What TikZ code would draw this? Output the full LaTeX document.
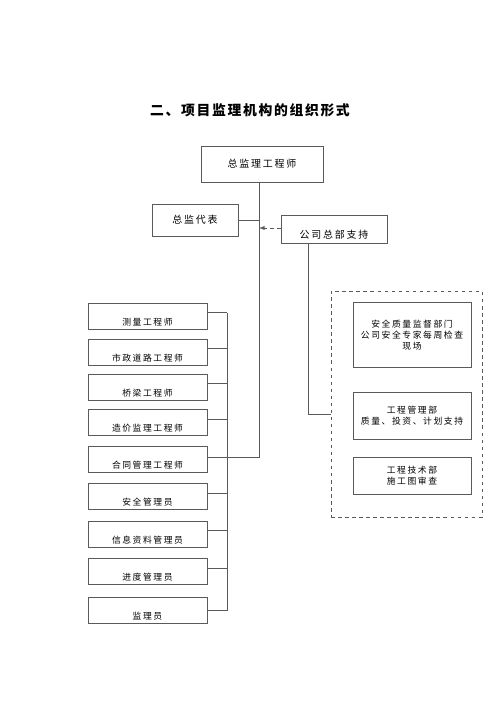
\documentclass[tikz,border=0pt]{standalone}
\usepackage{fontspec}
\setmainfont{Noto Sans CJK SC}[LetterSpace=18]
\newfontfamily\titlefont{Noto Sans CJK SC}[LetterSpace=12]
\usepackage{tikz}
\usepackage{xcolor}
\definecolor{linegray}{RGB}{90,90,90}

\begin{document}
\begin{tikzpicture}[x=0.03cm,y=-0.03cm,
		box/.style={draw=linegray,line width=0.7pt,rectangle,inner sep=2pt,align=center,font=\fontsize{7.5}{9.5}\selectfont},
		staff/.style={box,minimum width=3.57cm,minimum height=0.78cm,text height=1.6em,text depth=0pt},
		dept/.style={box,minimum width=3.54cm},
		link/.style={draw=linegray,line width=0.7pt}]
				\useasboundingbox (0,0) rectangle (500,707);
				\node[font=\titlefont\fontsize{11.8}{14}\selectfont\bfseries] (title) at (250,110) {二、项目监理机构的组织形式};
				\node[box,minimum width=3.66cm,minimum height=1.08cm,font=\fontsize{8.5}{10}\selectfont] (chief) at (262,164) {总监理工程师};
				\node[box,minimum width=2.58cm,minimum height=0.96cm,font=\fontsize{8.5}{10}\selectfont] (deputy) at (195,220) {总监代表};
				\node[box,minimum width=3.18cm,minimum height=0.84cm,font=\fontsize{8.5}{10}\selectfont,text height=1.6em,text depth=0pt] (hq) at (334,229) {公司总部支持};
				% left column
				\node[staff] (s1) at (147.5,316) {测量工程师};
				\node[staff] (s2) at (147.5,352) {市政道路工程师};
				\node[staff] (s3) at (147.5,387) {桥梁工程师};
				\node[staff] (s4) at (147.5,422.5) {造价监理工程师};
				\node[staff] (s5) at (147.5,459.5) {合同管理工程师};
				\node[staff] (s6) at (147.5,496.5) {安全管理员};
				\node[staff] (s7) at (147.5,534) {信息资料管理员};
				\node[staff] (s8) at (147.5,571.5) {进度管理员};
				\node[staff] (s9) at (147.5,610) {监理员};
				% support departments
				\node[draw=linegray,line width=0.7pt,dashed,minimum width=4.53cm,minimum height=6.78cm] (support) at (406.5,404) {};
				\node[dept,minimum height=1.95cm] (d1) at (412,335) {安全质量监督部门\\公司安全专家每周检查\\现场};
				\node[dept,minimum height=1.41cm] (d2) at (412,415.5) {工程管理部\\质量、投资、计划支持};
				\node[dept,minimum height=1.11cm] (d3) at (412,475.5) {工程技术部\\施工图审查};
				% connectors
				\coordinate (trunk) at (259,457);
				\coordinate (bus) at (227,313);
				\draw[link] (chief.south -| trunk) -- (trunk) -- (s5.east |- trunk);
				\draw[link] (deputy.east) -- (deputy.east -| trunk);
				\draw[link,dashed,-latex] (hq.west |- 0,228) -- (trunk |- 0,228);
				\draw[link] (bus) -- (bus |- s9.east) -- (s9.east);
				\foreach \i in {1,2,3,4,6,7,8}
					\draw[link] ([yshift=0.1cm]s\i.east) -- ([yshift=0.1cm]s\i.east -| bus);
				\draw[link] (hq.south -| 308,0) |- (support.west |- 0,414);
			\end{tikzpicture}
\end{document}
